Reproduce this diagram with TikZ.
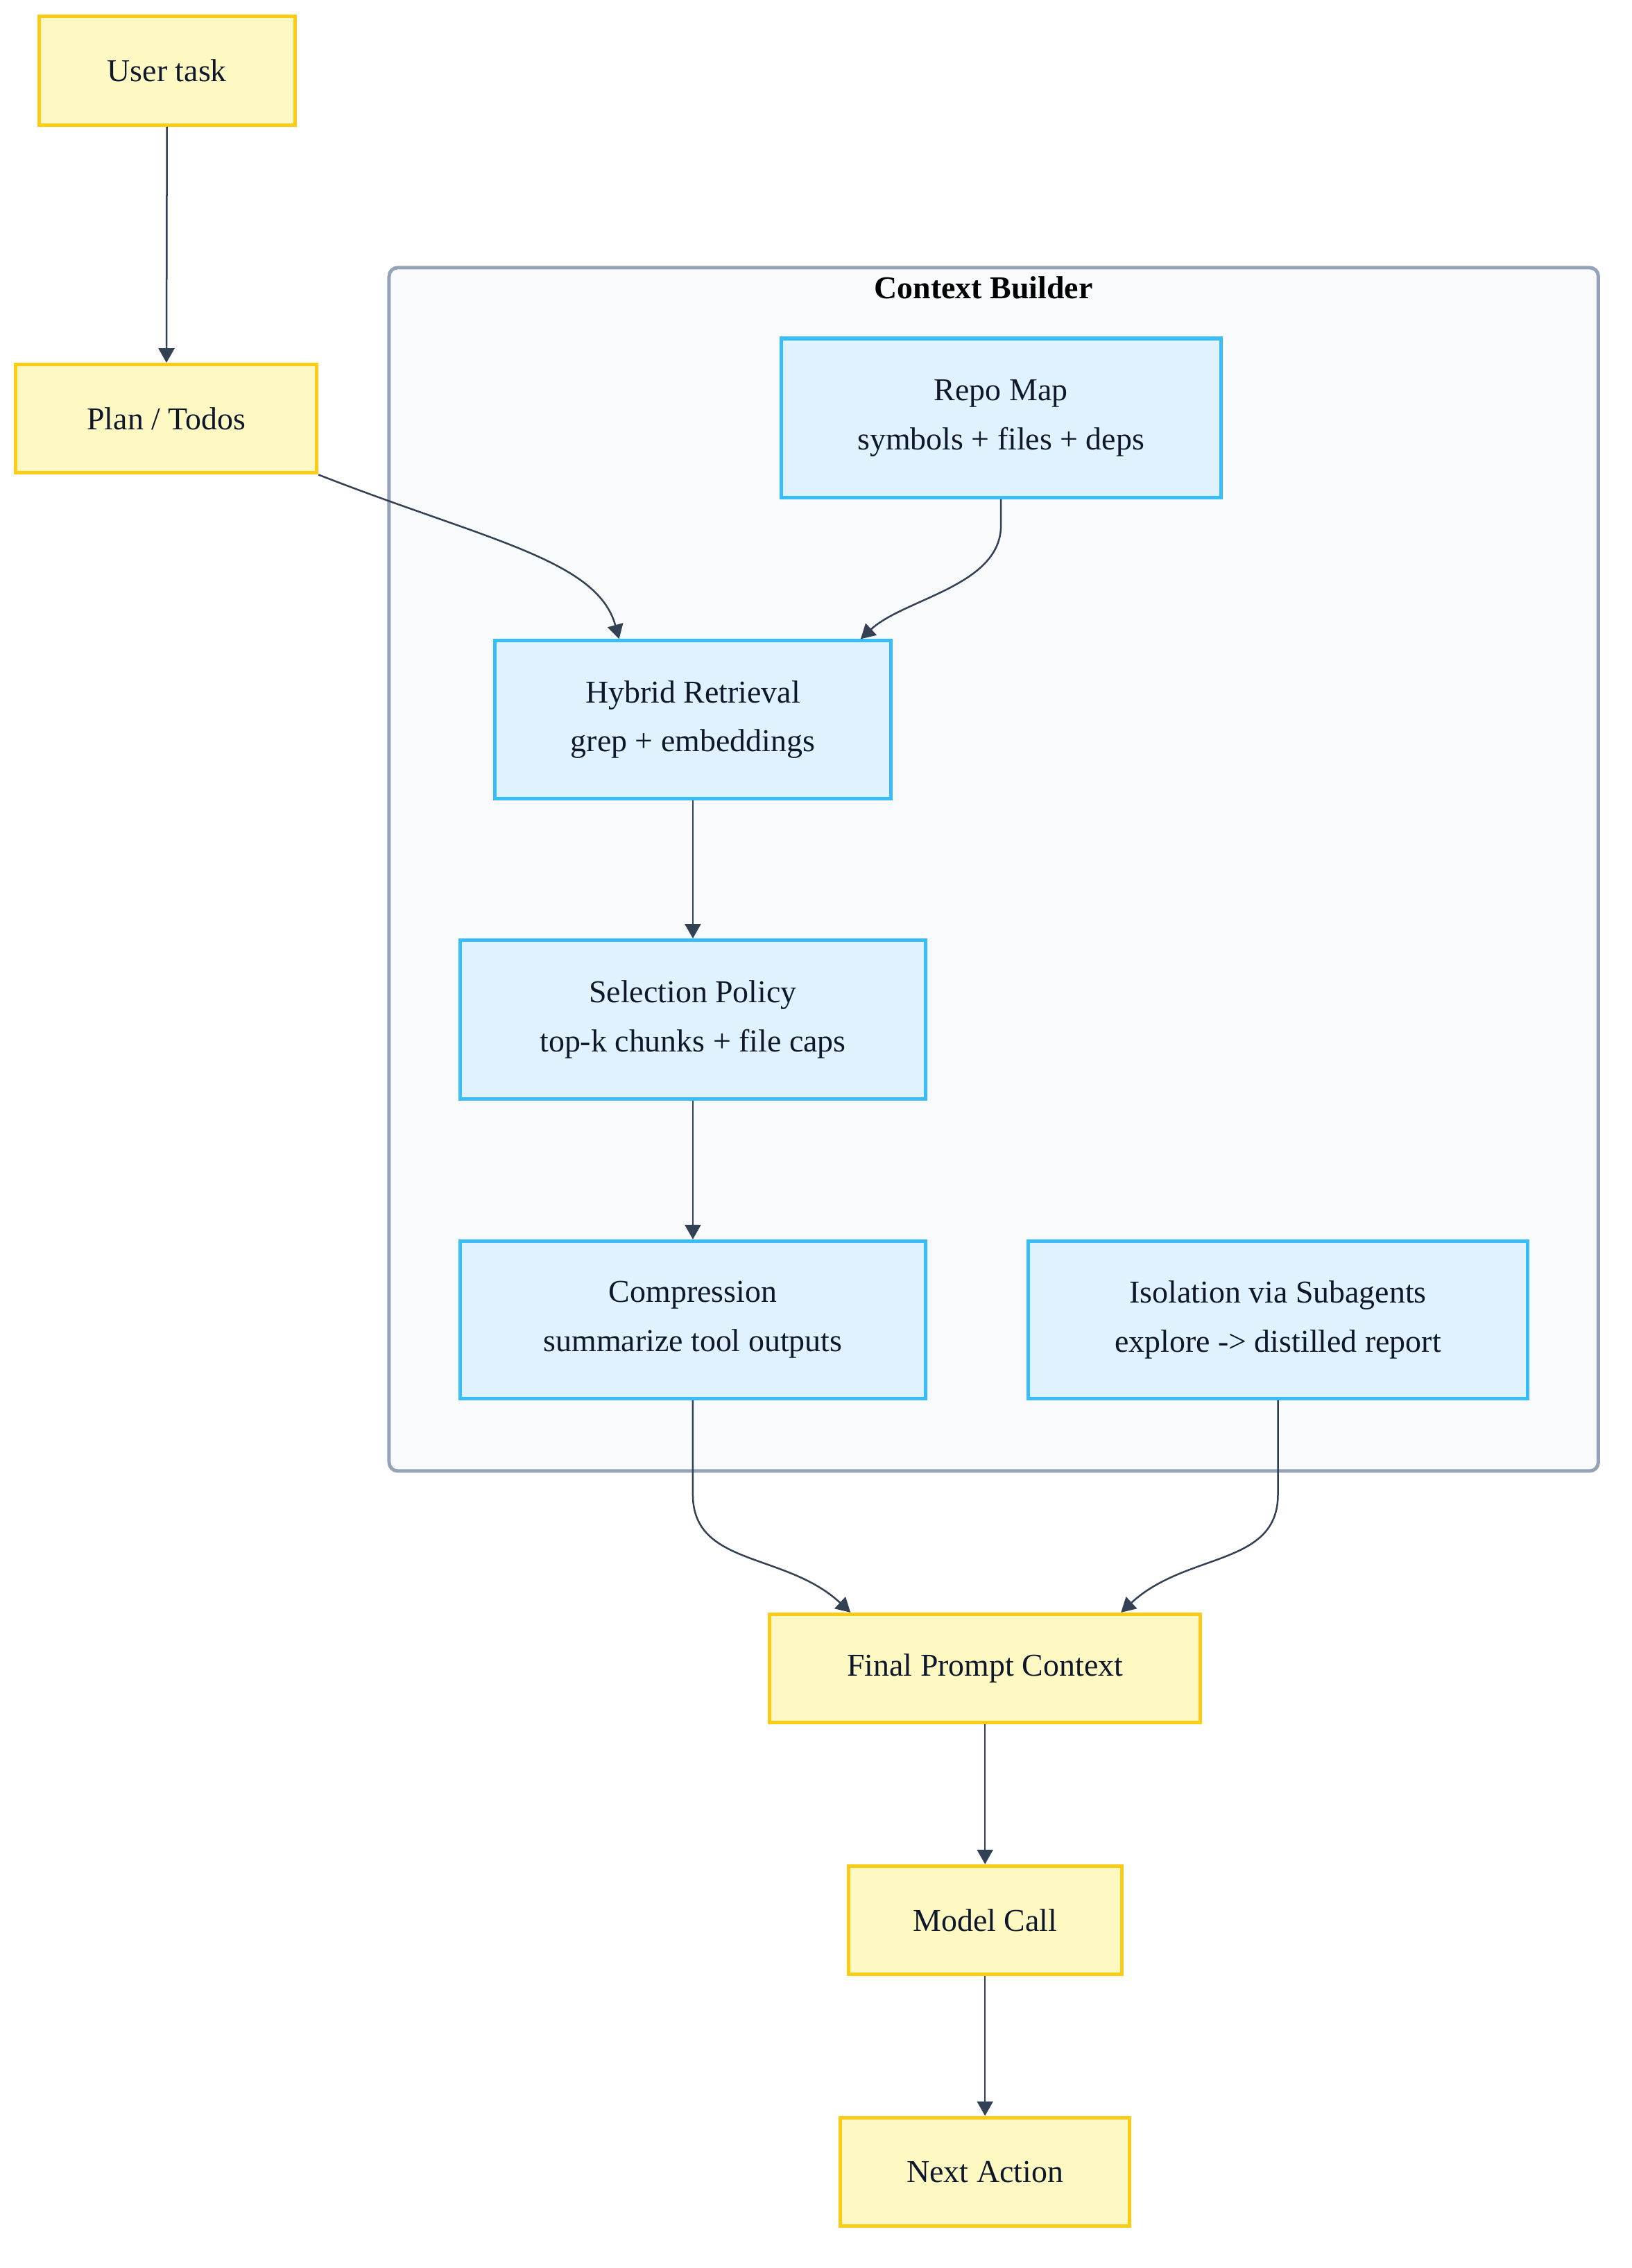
\documentclass[tikz,border=0pt]{standalone}
\usepackage{fontspec}
\setmainfont{Liberation Serif}
\usetikzlibrary{arrows.meta,calc}
\definecolor{notefill}{HTML}{FEF9C3}
\definecolor{noteline}{HTML}{FACC15}
\definecolor{stagefill}{HTML}{E0F2FE}
\definecolor{stageline}{HTML}{38BDF8}
\definecolor{groupfill}{HTML}{F8FAFC}
\definecolor{groupline}{HTML}{94A3B8}
\definecolor{edgeink}{HTML}{334155}
\definecolor{ink}{HTML}{0F172A}

\begin{document}
\begin{tikzpicture}[x=0.5pt,y=-0.5pt,
  every node/.style={font=\fontsize{11}{17}\selectfont,text=ink,inner sep=0pt,align=center},
  note/.style={draw=noteline,fill=notefill,line width=1.2pt,minimum height=37.5pt},
  stage/.style={draw=stageline,fill=stagefill,line width=1.2pt,minimum height=54.5pt},
  flow/.style={draw=edgeink,line width=0.6pt,-{Triangle[length=5pt,width=5.5pt]}}]
  \useasboundingbox (0,0) rectangle (1128,1568);
  % container
  \node[draw=groupline,fill=groupfill,line width=1.2pt,rounded corners=3pt,minimum width=418pt,minimum height=416pt] (builder) at (687,601) {};
  \node[font=\fontsize{11}{13}\bfseries\selectfont,text=black,below=3.5pt] (buildertitle) at ($(builder.north)+(-7,0)$) {Context Builder};
  % outer chain
  \node[note,minimum width=88.5pt] (task) at (115.5,49) {User task};
  \node[note,minimum width=104pt] (plan) at (115,289.5) {Plan / Todos};
  \node[note,minimum width=149pt] (final) at (681,1153.5) {Final Prompt Context};
  \node[note,minimum width=94.5pt] (model) at (681,1327.5) {Model Call};
  \node[note,minimum width=100pt] (nextact) at (681,1501.5) {Next Action};
  % inside the builder
  \node[stage,minimum width=152pt,minimum height=55pt] (repomap) at (692,289) {Repo Map\\symbols + files + deps};
  \node[stage,minimum width=137pt] (retrieval) at (479,497.5) {Hybrid Retrieval\\grep + embeddings};
  \node[stage,minimum width=161pt,minimum height=55pt] (selection) at (479,705) {Selection Policy\\top-k chunks + file caps};
  \node[stage,minimum width=161pt] (compression) at (479,912.5) {Compression\\summarize tool outputs};
  \node[stage,minimum width=172.5pt] (isolation) at (883.5,912.5) {Isolation via Subagents\\explore -> distilled report};
  % edges
  \draw[flow] (task) -- (plan);
  \draw[flow] (plan.south east) .. controls +(115,45) and +(-15,-55) .. ($(retrieval.north)+(-51,0)$);
  \draw[flow] (repomap.south) -- ++(0,18) .. controls +(0,42) and +(30,-28) .. ($(retrieval.north)+(116,0)$);
  \draw[flow] (retrieval) -- (selection);
  \draw[flow] (selection) -- (compression);
  \draw[flow] (compression.south) -- ++(0,65) .. controls +(0,50) and +(-45,-42) .. ($(final.north)+(-93,0)$);
  \draw[flow] (isolation.south) -- ++(0,65) .. controls +(0,50) and +(45,-42) .. ($(final.north)+(94,0)$);
  \draw[flow] (final) -- (model);
  \draw[flow] (model) -- (nextact);
\end{tikzpicture}
\end{document}
